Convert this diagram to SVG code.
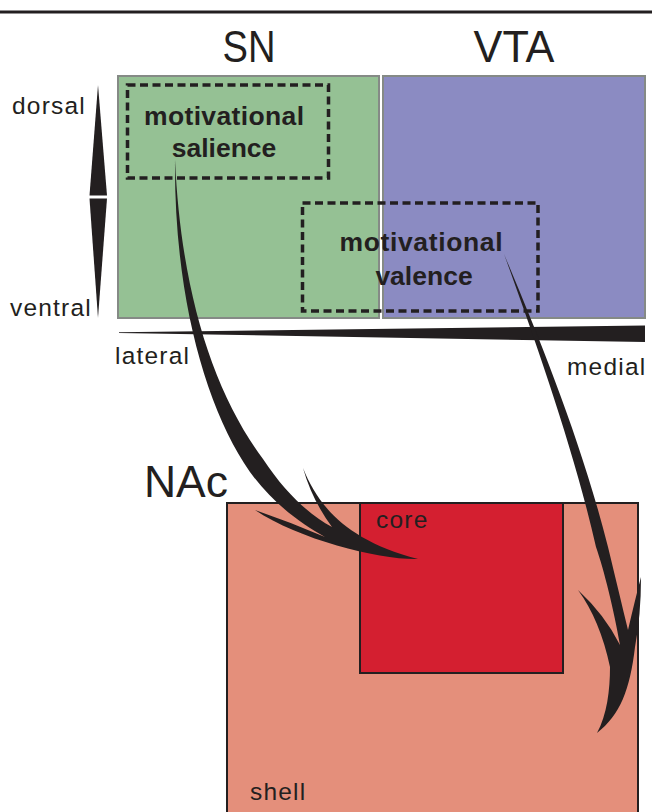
<svg xmlns="http://www.w3.org/2000/svg" width="652" height="812" viewBox="0 0 652 812">
<style>
text{font-family:"Liberation Sans",Arial,sans-serif;fill:#231f20}
.big{font-size:45px}
.lbl{font-size:24.5px;letter-spacing:1.2px}
.bold{font-size:26.5px;font-weight:bold}
.dash{fill:none;stroke:#231f20;stroke-width:3.5;stroke-dasharray:8 4.5}
.ink{fill:#231f20}
.region{stroke:#858a86;stroke-width:2}
.nac{stroke:#231f20;stroke-width:2}
</style>
<rect width="652" height="812" fill="#ffffff"/>
<line x1="0" y1="12" x2="652" y2="12" stroke="#231f20" stroke-width="3"/>
<g id="SN">
<rect class="region" x="118" y="76" width="261" height="242" fill="#95c194"/>
<text class="big" x="249" y="62" text-anchor="middle" textLength="53" lengthAdjust="spacingAndGlyphs">SN</text>
</g>
<g id="VTA">
<rect class="region" x="383" y="76" width="262" height="242" fill="#8b8bc2"/>
<text class="big" x="514" y="62" text-anchor="middle" textLength="81" lengthAdjust="spacingAndGlyphs">VTA</text>
</g>
<g id="salience">
<rect class="dash" x="127.5" y="85" width="201" height="93"/>
<text class="bold" x="224" y="125" text-anchor="middle" textLength="160" lengthAdjust="spacing">motivational</text>
<text class="bold" x="224" y="157" text-anchor="middle">salience</text>
</g>
<g id="valence">
<rect class="dash" x="302.5" y="203" width="235.5" height="108"/>
<text class="bold" x="421" y="251" text-anchor="middle" textLength="163" lengthAdjust="spacing">motivational</text>
<text class="bold" x="424" y="285" text-anchor="middle">valence</text>
</g>
<g id="axis-dorsoventral">
<polygon class="ink" points="98,85 107,195.5 89.5,195.5"/>
<polygon class="ink" points="89.5,198.5 107,198.5 98,318"/>
<text class="lbl" x="12" y="114">dorsal</text>
<text class="lbl" x="10" y="316">ventral</text>
</g>
<g id="axis-mediolateral">
<polygon class="ink" points="119,332.3 645,325.5 645,342 119,333"/>
<text class="lbl" x="115" y="364">lateral</text>
<text class="lbl" x="567" y="375">medial</text>
</g>
<g id="NAc">
<text class="big" x="186" y="497" text-anchor="middle" textLength="84" lengthAdjust="spacingAndGlyphs">NAc</text>
<rect class="nac" x="227" y="503" width="411" height="340" fill="#e48f7b"/>
<rect class="nac" x="360" y="503" width="203" height="170" fill="#d41f30"/>
<text class="lbl" x="376" y="528" letter-spacing="0.5">core</text>
<text class="lbl" x="250" y="800" letter-spacing="0.5">shell</text>
</g>
<g id="connectors">
<path class="ink" d="M175,160 C181,290 212,390 263,459 C286,494 310,515 332,527 Q312,500 303,468 C318,505 345,540 418,559 C380,560 300,540 255,510 Q290,522 325,537 C298,522 266,498 244,463 C203,398 174,290 175,160 Z"/>
<path class="ink" d="M504,254 C540,340 581,440 608,547 C616,580 622,605 628,630 Q635,600 641,577 Q641,615 635,647 C630,690 620,715 597,733 C607,715 610,690 610,667 Q600,620 578,590 Q605,615 620,645 C614,610 604,570 596,547 C574,450 535,340 504,254 Z"/>
</g>
</svg>
